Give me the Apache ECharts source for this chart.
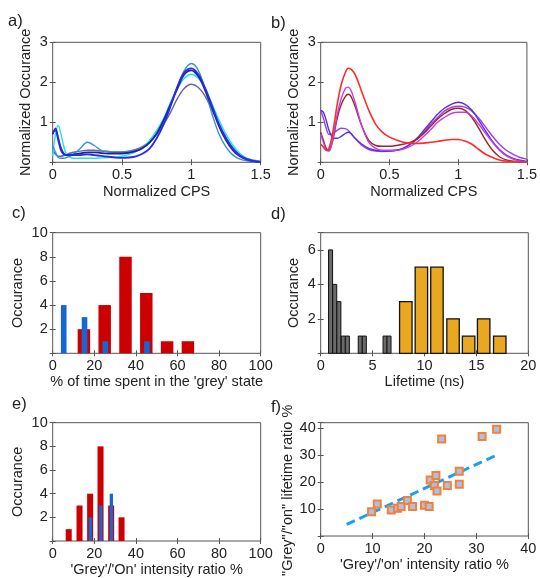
<!DOCTYPE html>
<html>
<head>
<meta charset="utf-8">
<script src="https://cdn.jsdelivr.net/npm/echarts@6/dist/echarts.min.js"></script>
<style>
html,body{margin:0;padding:0;background:#fff;}
#chart{width:540px;height:578px;}
</style>
</head>
<body>
<div id="chart"></div>
<script>
// ---------- data ----------
const cpsX = [0,0.02,0.04,0.06,0.08,0.1,0.15,0.2,0.25,0.3,0.35,0.4,0.45,0.5,0.55,0.6,0.65,0.7,0.75,0.8,0.85,0.9,0.95,1.0,1.05,1.1,1.15,1.2,1.25,1.3,1.35,1.4,1.45,1.5];
const aCyan  = [0.15,0.7,0.92,0.7,0.4,0.2,0.1,0.1,0.1,0.1,0.11,0.12,0.13,0.15,0.2,0.27,0.37,0.55,0.8,1.1,1.5,1.85,2.1,2.2,2.1,1.85,1.45,1.05,0.7,0.42,0.22,0.1,0.04,0.02];
const aSteel = [0.42,0.25,0.12,0.1,0.1,0.12,0.2,0.35,0.5,0.42,0.3,0.27,0.25,0.25,0.27,0.3,0.37,0.5,0.72,1.05,1.45,1.9,2.3,2.47,2.3,1.8,1.2,0.7,0.38,0.18,0.08,0.04,0.02,0.01];
const aNavy  = [0.7,0.85,0.6,0.35,0.22,0.18,0.2,0.22,0.25,0.25,0.23,0.22,0.22,0.22,0.24,0.28,0.36,0.5,0.72,1.05,1.45,1.85,2.2,2.3,2.15,1.8,1.35,0.9,0.55,0.3,0.15,0.07,0.03,0.01];
const aBlue  = [0.75,0.8,0.55,0.3,0.2,0.18,0.18,0.18,0.2,0.18,0.16,0.14,0.12,0.11,0.12,0.15,0.22,0.35,0.6,0.95,1.4,1.9,2.25,2.35,2.2,1.85,1.4,0.95,0.6,0.33,0.17,0.08,0.03,0.01];
const aSlate = [0.3,0.2,0.15,0.15,0.17,0.2,0.25,0.28,0.3,0.3,0.28,0.27,0.26,0.26,0.28,0.32,0.4,0.52,0.7,0.95,1.25,1.6,1.85,1.95,1.87,1.65,1.3,0.95,0.62,0.37,0.2,0.1,0.05,0.02];

const cpsXb = [0,0.02,0.04,0.06,0.08,0.1,0.12,0.15,0.18,0.2,0.22,0.25,0.3,0.35,0.4,0.45,0.5,0.55,0.6,0.65,0.7,0.75,0.8,0.85,0.9,0.95,1.0,1.05,1.1,1.15,1.2,1.25,1.3,1.35,1.4,1.45,1.5];
const bRed     = [0.45,0.38,0.3,0.35,0.6,1.0,1.45,1.95,2.25,2.35,2.33,2.2,1.75,1.3,0.95,0.75,0.63,0.56,0.5,0.48,0.47,0.48,0.5,0.52,0.55,0.57,0.57,0.53,0.45,0.32,0.2,0.12,0.06,0.03,0.02,0.01,0.0];
const bMagenta = [0.7,0.5,0.3,0.28,0.45,0.8,1.2,1.6,1.85,1.88,1.8,1.5,0.9,0.5,0.35,0.3,0.3,0.3,0.33,0.4,0.5,0.65,0.82,1.0,1.12,1.22,1.25,1.25,1.15,0.95,0.72,0.5,0.3,0.16,0.08,0.03,0.01];
const bMaroon  = [0.75,0.55,0.35,0.3,0.45,0.75,1.1,1.45,1.65,1.7,1.65,1.4,0.9,0.55,0.42,0.4,0.4,0.42,0.45,0.5,0.58,0.72,0.9,1.08,1.22,1.32,1.35,1.3,1.12,0.85,0.55,0.3,0.14,0.06,0.03,0.01,0.0];
const bIndigo  = [1.3,1.25,1.05,0.8,0.65,0.6,0.6,0.65,0.72,0.75,0.72,0.6,0.45,0.35,0.3,0.28,0.28,0.3,0.35,0.45,0.6,0.8,1.0,1.2,1.35,1.45,1.5,1.45,1.3,1.05,0.78,0.52,0.32,0.18,0.1,0.05,0.02];
const bViolet  = [1.3,1.1,0.85,0.7,0.7,0.75,0.8,0.85,0.84,0.8,0.72,0.6,0.42,0.32,0.28,0.27,0.28,0.3,0.35,0.45,0.58,0.75,0.95,1.12,1.28,1.37,1.4,1.38,1.28,1.1,0.88,0.65,0.45,0.3,0.2,0.12,0.08];

const cRedX  = [15,25,35,45,55,65];
const cRedV  = [2,4,8,5,1,1];
const cBlueX = [5.3,15.3,25.3,45.3];
const cBlueV = [4,3,1,1];

const dGreyX = [0.95,1.35,1.75,2.18,2.57,3.81,4.2,6.2,6.58];
const dGreyV = [6,4,3,1,1,1,1,1,1];
const dOrangeX = [8.2,9.7,11.2,12.75,14.25,15.7,17.25];
const dOrangeV = [3,5,5,2,1,2,1];

const eRedX  = [7.7,12.9,18,23,28.1,33.1];
const eRedV  = [1,3,4,8,3,2];
const eBlueX = [18.1,23.1,28.2];
const eBlueV = [2,3,4];

const fX = [9.8,10.9,13.6,14.8,15.5,16.7,17.7,20.0,20.9,21.1,22.2,21.9,22.4,23.3,24.4,26.7,26.7,31.1,33.9];
const fY = [9.0,11.9,9.6,10.3,10.9,13.2,10.9,11.4,10.9,20.8,22.4,18.7,16.7,36.0,18.7,24.0,19.2,36.9,39.6];
const fitX = [5,34];
const fitY = [4.3,30.1];

// ---------- layout / style ----------
const FONT = '"Liberation Sans", Arial, sans-serif';
const TXT = '#222';
const FS = 14.5;
const grids = [
  {left:52.7, top:42.3, width:208, height:120},
  {left:320.7, top:42.3, width:207.6, height:120},
  {left:52.7, top:232.7, width:208, height:120.6},
  {left:320.7, top:232.7, width:207.6, height:120.6},
  {left:52.7, top:422.7, width:208, height:121.3},
  {left:320.7, top:422.7, width:207.6, height:121.3}
].map(g => Object.assign({show:true, borderColor:'#555', borderWidth:1, backgroundColor:'transparent'}, g));

const xAxes = [], yAxes = [];
function addX(gi, min, max, interval, name, gap){
  xAxes.push({type:'value', gridIndex:gi, min, max, interval, position:'bottom',
    name, nameLocation:'middle', nameGap:gap,
    nameTextStyle:{fontFamily:FONT, fontSize:FS, color:TXT},
    axisLine:{show:false}, splitLine:{show:false},
    axisTick:{inside:true, length:3, lineStyle:{color:'#555'}},
    axisLabel:{fontFamily:FONT, fontSize:FS, color:TXT, margin:5, showMaxLabel:true, showMinLabel:true}});
  xAxes.push({type:'value', gridIndex:gi, min, max, interval, position:'top',
    axisLine:{show:false}, splitLine:{show:false}, axisLabel:{show:false},
    axisTick:{inside:true, length:3, lineStyle:{color:'#555'}}});
}
function addY(gi, min, max, interval, name, gap, pad){
  yAxes.push({type:'value', gridIndex:gi, min, max, interval, position:'left',
    name, nameLocation:'middle', nameGap:gap,
    nameTextStyle:{fontFamily:FONT, fontSize:FS, color:TXT, padding:pad || 0},
    axisLine:{show:false}, splitLine:{show:false},
    axisTick:{inside:true, length:3, lineStyle:{color:'#555'}},
    axisLabel:{fontFamily:FONT, fontSize:FS, color:TXT, margin:5,
      formatter:v => (v === 0 || v % interval !== 0) ? '' : String(v)}});
  yAxes.push({type:'value', gridIndex:gi, min, max, interval, position:'right',
    axisLine:{show:false}, splitLine:{show:false}, axisLabel:{show:false},
    axisTick:{inside:true, length:3, lineStyle:{color:'#555'}}});
}
addX(0,0,1.5,0.5,'Normalized CPS',22);  addY(0,0,3,1,'Normalized Occurance',19);
addX(1,0,1.5,0.5,'Normalized CPS',22);  addY(1,0,3,1,'Normalized Occurance',19);
addX(2,0,100,20,"% of time spent in the 'grey' state",21); addY(2,0,10,2,'Occurance',27);
addX(3,0,20,5,'Lifetime (ns)',21);      addY(3,0,7,2,'Occurance',19);
addX(4,0,100,20,"'Grey'/'On' intensity ratio %",21); addY(4,0,10,2,'Occurance',27);
addX(5,0,40,10,"'Grey'/'on' intensity ratio %",21);  addY(5,0,42,10,'"Grey"/"on" lifetime ratio %',25,[0,22,0,0]);

const series = [];
function curve(gi, xs, ys, color, w){
  series.push({type:'line', xAxisIndex:gi*2, yAxisIndex:gi*2, data:xs.map((x,i)=>[x,ys[i]]),
    showSymbol:false, smooth:0.35, lineStyle:{color, width:w||1.4}, itemStyle:{color}, silent:true, z:2});
}
curve(0,cpsX,aSlate,'#6262b2');
curve(0,cpsX,aCyan,'#1ee3ef');
curve(0,cpsX,aSteel,'#3b8fd2');
curve(0,cpsX,aNavy,'#24248e',1.8);
curve(0,cpsX,aBlue,'#2a2aea',1.8);

curve(1,cpsXb,bViolet,'#9442f0');
curve(1,cpsXb,bIndigo,'#5a30d6');
curve(1,cpsXb,bMaroon,'#9c2424');
curve(1,cpsXb,bMagenta,'#c23ee2');
curve(1,cpsXb,bRed,'#ff2b2b',1.6);

function bars(gi, xs, vs, width, fill, stroke, lw, z){
  series.push({type:'custom', xAxisIndex:gi*2, yAxisIndex:gi*2, z:z||2, silent:true,
    data:xs.map((x,i)=>[x,vs[i]]), encode:{x:0,y:1},
    renderItem:(params, api)=>{
      const x = api.value(0), v = api.value(1);
      const p1 = api.coord([x - width/2, v]);
      const p2 = api.coord([x + width/2, 0]);
      return {type:'rect', shape:{x:p1[0], y:p1[1], width:p2[0]-p1[0], height:p2[1]-p1[1]},
        style:{fill, stroke: stroke || null, lineWidth: lw || 0}};
    }});
}
bars(2,cRedX,cRedV,6,'#cc0000');
bars(2,cBlueX,cBlueV,2.7,'#1766d6',null,0,3);
bars(3,dGreyX,dGreyV,0.39,'#6a6a6a','#111',1);
bars(3,dOrangeX,dOrangeV,1.2,'#eaa820','#111',1.3);
bars(4,eRedX,eRedV,2.9,'#cc0000');
bars(4,eBlueX,eBlueV,1.6,'#1766d6',null,0,3);

series.push({type:'line', xAxisIndex:10, yAxisIndex:10, data:fitX.map((x,i)=>[x,fitY[i]]),
  showSymbol:false, lineStyle:{color:'#1b9ff0', width:3, type:[9,5]}, silent:true, z:2});
series.push({type:'scatter', xAxisIndex:10, yAxisIndex:10, data:fX.map((x,i)=>[x,fY[i]]),
  symbol:'rect', symbolSize:7, itemStyle:{color:'#a9c2e2', borderColor:'#f5803a', borderWidth:2, opacity:1}, silent:true, z:3});

const LFS = 16.5;
const letters = [['a)',8,13],['b)',271,15],['c)',12,205],['d)',271,206],['e)',12,396],['f)',271,399]];
const graphic = letters.map(([t,x,y]) => ({type:'text', left:x, top:y, style:{text:t, font:`${LFS}px ${FONT}`, fill:TXT}}));

const chart = echarts.init(document.getElementById('chart'), null, {renderer:'canvas'});
chart.setOption({animation:false, backgroundColor:'#fff', grid:grids, xAxis:xAxes, yAxis:yAxes, series, graphic});
</script>
</body>
</html>
